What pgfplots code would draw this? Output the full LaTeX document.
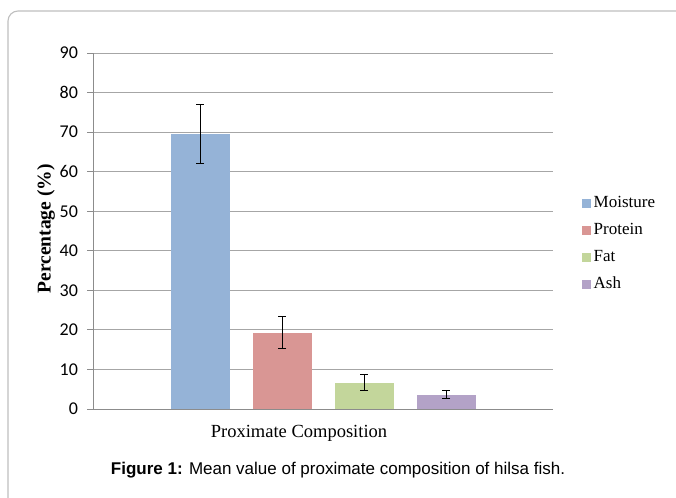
\documentclass[border=0pt]{standalone}
\usepackage{fontspec}
\setmainfont{Liberation Serif}
\newfontfamily\capfont{Liberation Sans}
\newfontfamily\calib{Carlito}
\usepackage{pgfplots}
\pgfplotsset{compat=1.18}

\definecolor{cMoist}{HTML}{95B3D7}
\definecolor{cProt}{HTML}{D99694}
\definecolor{cFat}{HTML}{C3D69B}
\definecolor{cAsh}{HTML}{B3A2C7}

\begin{document}
\begin{tikzpicture}
\useasboundingbox (-93bp,-89bp) rectangle (583bp,409bp);
\draw[black!25, line width=1.1bp, rounded corners=10bp] (-85bp,-140bp) rectangle (640bp,398bp);
\begin{axis}[
  at={(0,0)}, anchor=south west,
  scale only axis, width=460bp, height=356bp,
  ybar=23bp, bar width=59bp,
  xmin=-1, xmax=1, ymin=0, ymax=90,
  ytick distance=10,
  xtick=\empty,
  axis x line*=bottom, axis y line*=left,
  axis line style={black!45, line width=0.8bp, -},
  ymajorgrids, grid style={black!35, line width=0.9bp},
  tick align=outside, major tick length=5.5bp,
  tick style={black!45, line width=0.8bp},
  /pgf/number format/assume math mode=true,
  yticklabel style={font=\calib\fontsize{18bp}{20bp}\selectfont, xshift=-6bp},
  error bars/error bar style={black, line width=1bp},
  error bars/error mark options={rotate=90, mark size=4bp, black, line width=1bp},
  legend style={at={(1.062,0.4635)}, anchor=west, draw=none, fill=none,
    inner sep=0pt, row sep=12bp, column sep=3bp,
    nodes={inner sep=0pt, text height=12bp, text depth=3bp},
    font=\fontsize{17bp}{20bp}\selectfont},
  legend image code/.code={\fill[#1] (0bp,-4.5bp) rectangle (9bp,4.5bp);},
  legend cell align=left,
]
\addplot[fill=cMoist, draw=none, error bars/.cd, y dir=both, y explicit]
  coordinates {(0,69.5) +- (0,7.5)};
\addplot[fill=cProt, draw=none, error bars/.cd, y dir=both, y explicit]
  coordinates {(0,19.3) +- (0,4.0)};
\addplot[fill=cFat, draw=none, error bars/.cd, y dir=both, y explicit]
  coordinates {(0,6.6) +- (0,2.0)};
\addplot[fill=cAsh, draw=none, error bars/.cd, y dir=both, y explicit]
  coordinates {(0,3.6) +- (0,1.0)};
\legend{Moisture,Protein,Fat,Ash}
\end{axis}
\node[anchor=base, font=\fontsize{18.5bp}{20bp}\selectfont] at (206bp,-28bp) {Proximate Composition};
\node[rotate=90, font=\bfseries\fontsize{19.5bp}{22bp}\selectfont] at (-47bp,180bp) {Percentage (\%)};
\node[anchor=base, font=\capfont\fontsize{17bp}{20bp}\selectfont] at (245bp,-65bp) {\textbf{Figure 1:} Mean value of proximate composition of hilsa fish.};
\end{tikzpicture}
\end{document}
